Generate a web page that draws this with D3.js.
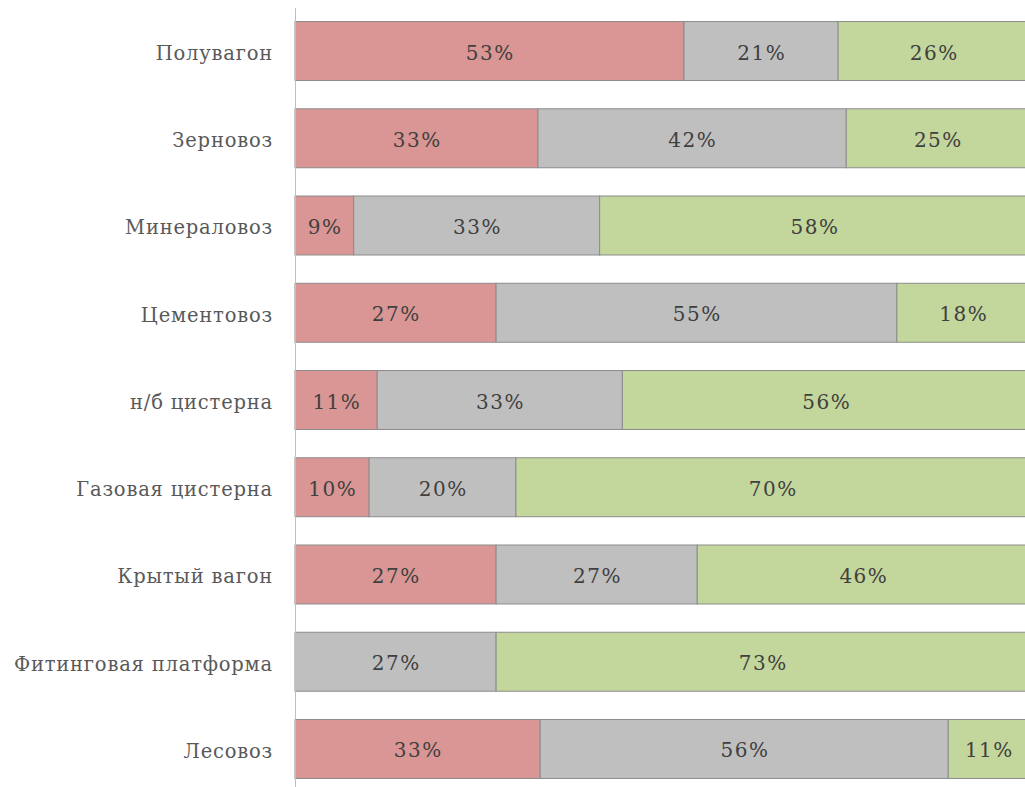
<!DOCTYPE html>
<html><head><meta charset="utf-8">
<script src="https://cdn.jsdelivr.net/npm/d3@7/dist/d3.min.js"></script>
<style>body{margin:0;background:#fff}svg{display:block}</style>
</head><body>
<script>
const categories = ["Полувагон","Зерновоз","Минераловоз","Цементовоз","н/б цистерна","Газовая цистерна","Крытый вагон","Фитинговая платформа","Лесовоз"];
const seriesA = [53.0, 33.1, 8.0, 27.4, 11.2, 10.1, 27.4, 0, 33.4];
const seriesB = [21.0, 42.0, 33.5, 54.6, 33.4, 20.0, 27.4, 27.4, 55.6];
const seriesC = [26.0, 24.9, 58.5, 18.0, 55.5, 69.9, 45.2, 72.6, 11.0];
const labelsA = ["53%","33%","9%","27%","11%","10%","27%","","33%"];
const labelsB = ["21%","42%","33%","55%","33%","20%","27%","27%","56%"];
const labelsC = ["26%","25%","58%","18%","56%","70%","46%","73%","11%"];
const colors = ["#d99694","#bfbfbf","#c3d69b"];

const W=1025,H=787;
const svg=d3.select("body").append("svg").attr("width",W).attr("height",H);
const x=d3.scaleLinear().domain([0,100]).range([295,1029]);
const y=d3.scaleBand().domain(categories).range([7.4,792.6]).paddingInner(0.324).paddingOuter(0.162);

const series=[{v:seriesA,l:labelsA,c:colors[0]},{v:seriesB,l:labelsB,c:colors[1]},{v:seriesC,l:labelsC,c:colors[2]}];
const font="'DejaVu Serif', serif";

categories.forEach((cat,i)=>{
  let acc=0;
  series.forEach(s=>{
    const v=s.v[i];
    if(v>0){
      svg.append("rect").attr("x",x(acc)).attr("y",y(cat)).attr("width",x(acc+v)-x(acc)).attr("height",y.bandwidth())
        .attr("fill",s.c).attr("stroke","#8c8c8c").attr("stroke-width",1);
      svg.append("text").attr("x",(x(acc)+x(acc+v))/2+0.75).attr("y",y(cat)+y.bandwidth()/2+1.5)
        .attr("text-anchor","middle").attr("dominant-baseline","central")
        .attr("font-family",font).attr("font-size",20).attr("letter-spacing","1.5px")
        .attr("fill","#404040").text(s.l[i]);
    }
    acc+=v;
  });
});

const ax=svg.append("g").attr("transform","translate(295,0)").call(d3.axisLeft(y).tickSize(0).tickPadding(22));
ax.select(".domain").attr("stroke","#bfbfbf").attr("d","M0.5,8V787");
ax.selectAll("text").attr("font-family",font).attr("font-size",19.5).attr("letter-spacing","0.8px")
  .attr("fill","#595959").attr("dy","0.45em");
</script>
</body></html>
